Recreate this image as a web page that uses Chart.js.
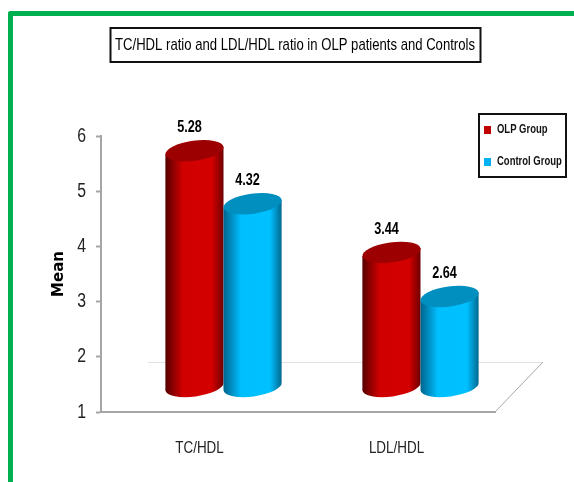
<!DOCTYPE html>
<html>
<head>
<meta charset="utf-8">
<style>
  html, body { margin: 0; padding: 0; background: #fff; overflow: hidden; }
  #wrap { position: relative; width: 574px; height: 482px; overflow: hidden; }
  #frame { position: absolute; left: 8px; top: 11px; width: 600px; height: 520px;
           border-left: 5px solid #00b050; border-top: 5px solid #00b050; border-top-left-radius: 3px; }
  canvas { position: absolute; left: 0; top: 0; }
</style>
<script src="https://cdn.jsdelivr.net/npm/chart.js@4"></script>
</head>
<body>
<div id="wrap">
  <div id="frame"></div>
  <canvas id="myChart" width="574" height="482"></canvas>
</div>
<script>
const categories = ["TC/HDL", "LDL/HDL"];
const olpValues = [5.28, 3.44];
const controlValues = [4.32, 2.64];
const yTicks = [1, 2, 3, 4, 5, 6];
const chartTitle = "TC/HDL ratio and LDL/HDL ratio in OLP patients and Controls";
const yTitle = "Mean";

const sans = "'Liberation Sans', sans-serif";

// the old chart is a fake 3D one, bars sit back from the floor edge
const depthX = 24, depthY = -25;
const tilt = 4, capH = 10;

const redShades = ["#560000", "#d00000", "#d40000", "#6e0000", "#9c0000"];
const blueShades = ["#00648c", "#00bfff", "#00c0ff", "#00688f", "#008fbf"];

// reference text is condensed (Calibri like), no such font here so squeeze it
const canvas = document.getElementById("myChart");
const rawCtx = canvas.getContext("2d");
const plainFillText = rawCtx.fillText.bind(rawCtx);
rawCtx.fillText = function(text, x, y) {
  if (text === yTitle) return plainFillText(text, x, y);
  plainFillText(text, x, y, rawCtx.measureText(text).width * 0.79);
};

function cylinder(ctx, bar, shades) {
  const half = bar.width / 2;
  const x = bar.x + depthX;
  const top = bar.y + depthY;
  const bottom = bar.base + depthY;
  const rot = -Math.atan2(tilt, half);
  const rx = Math.hypot(half, tilt);

  const grad = ctx.createLinearGradient(x - half, 0, x + half, 0);
  grad.addColorStop(0, shades[0]);
  grad.addColorStop(0.3, shades[1]);
  grad.addColorStop(0.8, shades[2]);
  grad.addColorStop(1, shades[3]);

  ctx.beginPath();
  ctx.moveTo(x + half, top - tilt);
  ctx.lineTo(x + half, bottom - tilt);
  ctx.ellipse(x, bottom, rx, capH, rot, 0, Math.PI);
  ctx.lineTo(x - half, top + tilt);
  ctx.closePath();
  ctx.fillStyle = grad;
  ctx.fill();

  ctx.beginPath();
  ctx.ellipse(x, top, rx, capH, rot, 0, Math.PI * 2);
  ctx.fillStyle = shades[4];
  ctx.fill();
}

const oldChartLook = {
  id: "oldChartLook",
  afterLayout(chart) {
    // title and legend live in their own boxes, not where the layout puts them
    Object.assign(chart.titleBlock, { left: 110, right: 480, top: 35 });
    Object.assign(chart.legend, { left: 464, right: 574, top: 104, bottom: 200 });
  },
  beforeDraw(chart) {
    const ctx = chart.ctx;
    const area = chart.chartArea;
    ctx.save();
    // floor of the 3D box
    ctx.lineWidth = 1;
    ctx.strokeStyle = "#e2e2e2";
    ctx.beginPath();
    ctx.moveTo(area.left + 47, area.bottom - 49.5);
    ctx.lineTo(area.right + 48, area.bottom - 49.5);
    ctx.stroke();
    ctx.strokeStyle = "#a6a6a6";
    ctx.beginPath();
    ctx.moveTo(area.right, area.bottom);
    ctx.lineTo(area.right + 48, area.bottom - 50);
    ctx.stroke();
    // title and legend frames
    ctx.lineWidth = 2;
    ctx.strokeStyle = "#111";
    ctx.strokeRect(110.5, 28, 370, 34);
    ctx.strokeRect(479, 114, 87, 63);
    ctx.restore();
  },
  beforeDatasetsDraw(chart) {
    const ctx = chart.ctx;
    ctx.save();
    [redShades, blueShades].forEach((shades, i) => {
      chart.getDatasetMeta(i).data.forEach(bar => cylinder(ctx, bar, shades));
    });
    ctx.fillStyle = "#000";
    ctx.font = "bold 16px " + sans;
    ctx.textAlign = "center";
    ctx.textBaseline = "middle";
    [olpValues, controlValues].forEach((vals, i) => {
      chart.getDatasetMeta(i).data.forEach((bar, j) => {
        ctx.fillText(vals[j].toFixed(2), bar.x + depthX - 5, bar.y + depthY - 23);
      });
    });
    ctx.restore();
    return false;
  }
};

new Chart(canvas, {
  type: "bar",
  plugins: [oldChartLook],
  data: {
    labels: categories,
    datasets: [
      { label: "OLP Group", data: olpValues, backgroundColor: "#c00000", borderWidth: 0 },
      { label: "Control Group", data: controlValues, backgroundColor: "#00b0f0", borderWidth: 0 }
    ]
  },
  options: {
    responsive: false,
    animation: false,
    layout: { padding: { left: 50, right: 79, top: 0, bottom: 0 } },
    datasets: { bar: { categoryPercentage: 0.59, barPercentage: 1, base: 1 } },
    plugins: {
      title: {
        display: true,
        text: chartTitle,
        color: "#000",
        font: { family: sans, size: 16.6, weight: "normal" },
        padding: { top: 0, bottom: 116.08 }
      },
      legend: {
        position: "chartArea",
        align: "start",
        labels: {
          boxWidth: 7,
          boxHeight: 8,
          padding: 20,
          color: "#111",
          font: { family: sans, size: 12, weight: "bold" }
        }
      },
      tooltip: { enabled: false }
    },
    scales: {
      x: {
        afterFit(s) { s.height = 70; },
        border: { color: "#a6a6a6", width: 2 },
        grid: { display: false },
        ticks: { color: "#222", padding: 18, font: { family: sans, size: 17 } }
      },
      y: {
        min: 1,
        max: 6,
        afterFit(s) { s.width = 51; },
        afterBuildTicks(s) { s.ticks = yTicks.map(v => ({ value: v })); },
        border: { color: "#a6a6a6", width: 2 },
        grid: { drawOnChartArea: false, color: "#a6a6a6", tickLength: 5, tickWidth: 2 },
        ticks: { color: "#222", padding: 10, font: { family: sans, size: 20 } },
        title: {
          display: true,
          text: yTitle,
          color: "#000",
          padding: 0,
          font: { family: "'DejaVu Sans', sans-serif", size: 15, weight: "bold" }
        }
      }
    }
  }
});
</script>
</body>
</html>
